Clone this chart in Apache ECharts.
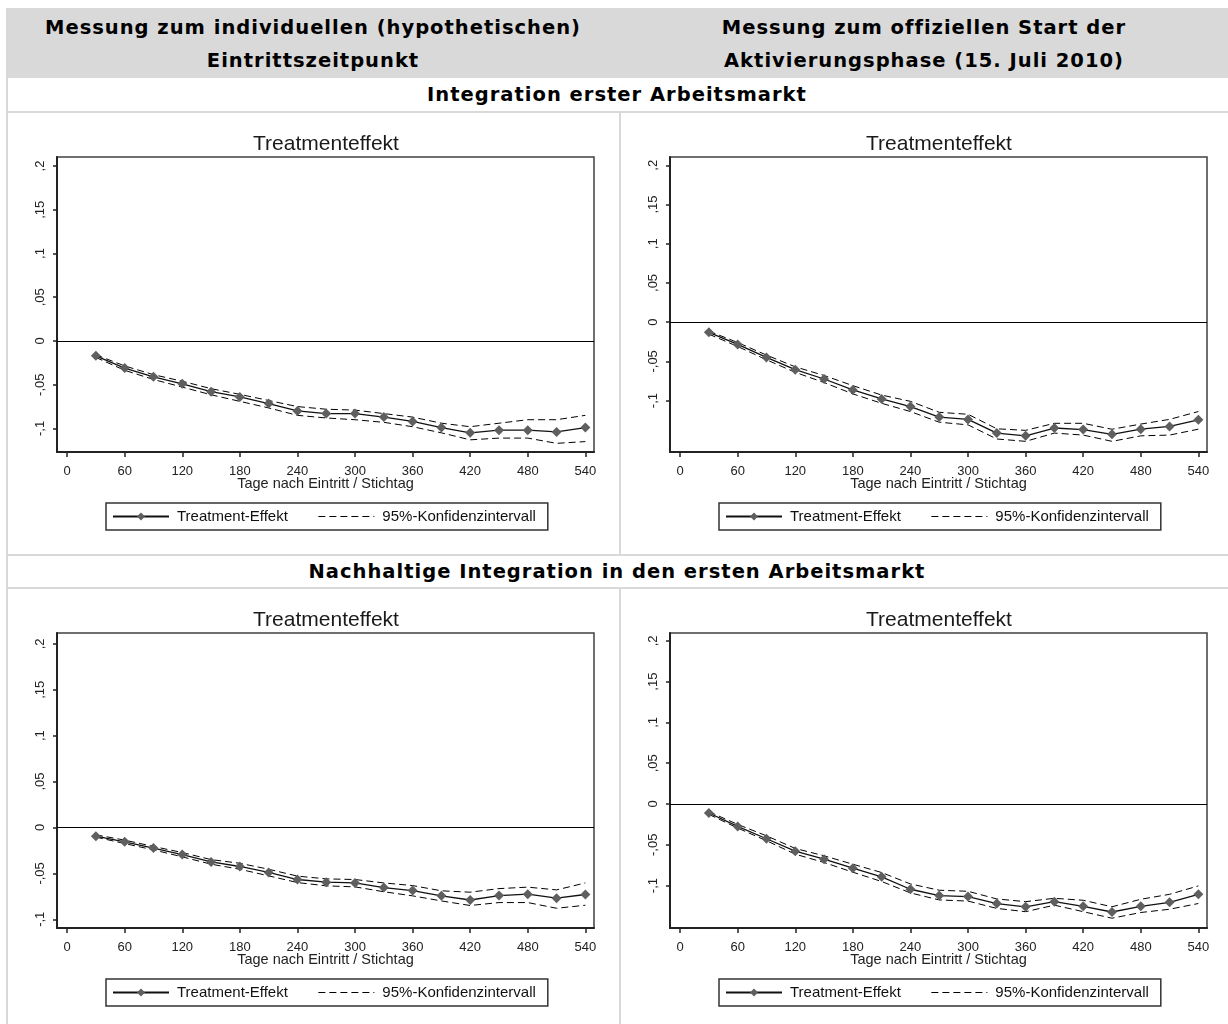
<!DOCTYPE html>
<html>
<head>
<meta charset="utf-8">
<script src="https://cdn.jsdelivr.net/npm/echarts@6/dist/echarts.min.js"></script>
<style>
  body { margin: 0; background: #fff; }
  #page { position: relative; width: 1228px; height: 1024px; overflow: hidden; }
  .gray { position: absolute; background: #d9d9d9; }
  .hdr { position: absolute; font-family: "DejaVu Sans", Verdana, sans-serif; font-weight: bold; font-size: 19.5px; letter-spacing: 1px; color: #000; text-align: center; line-height: 33px; }
  .chart { position: absolute; }
</style>
</head>
<body>
<div id="page">
  <div class="gray" style="left:6px;top:8px;width:1222px;height:70px;"></div>
  <div class="hdr" style="left:6px;top:11px;width:614px;">Messung zum individuellen (hypothetischen)<br>Eintrittszeitpunkt</div>
  <div class="hdr" style="left:620px;top:11px;width:608px;">Messung zum offiziellen Start der<br>Aktivierungsphase (15. Juli 2010)</div>
  <div class="hdr" style="left:6px;top:78px;width:1222px;">Integration erster Arbeitsmarkt</div>
  <div class="hdr" style="left:6px;top:555px;width:1222px;">Nachhaltige Integration in den ersten Arbeitsmarkt</div>
  <!-- table lines -->
  <div class="gray" style="left:6px;top:78px;width:2px;height:946px;"></div>
  <div class="gray" style="left:6px;top:111px;width:1222px;height:2px;"></div>
  <div class="gray" style="left:619px;top:113px;width:2px;height:441px;"></div>
  <div class="gray" style="left:6px;top:554px;width:1222px;height:2px;"></div>
  <div class="gray" style="left:6px;top:587px;width:1222px;height:2px;"></div>
  <div class="gray" style="left:619px;top:589px;width:2px;height:435px;"></div>

  <div class="chart" id="c1" style="left:8px;top:113px;width:611px;height:441px;"></div>
  <div class="chart" id="c2" style="left:621px;top:113px;width:607px;height:441px;"></div>
  <div class="chart" id="c3" style="left:8px;top:589px;width:611px;height:435px;"></div>
  <div class="chart" id="c4" style="left:621px;top:589px;width:607px;height:435px;"></div>
</div>
<script>
// Tage nach Eintritt / Stichtag
var days = [30, 60, 90, 120, 150, 180, 210, 240, 270, 300, 330, 360, 390, 420, 450, 480, 510, 540];
var xTicks = [0, 60, 120, 180, 240, 300, 360, 420, 480, 540];
var yTicks = [-0.1, -0.05, 0, 0.05, 0.1, 0.15, 0.2];

// Integration erster Arbeitsmarkt - individueller Eintrittszeitpunkt
var eff1 = [-0.017, -0.031, -0.041, -0.049, -0.058, -0.064, -0.0715, -0.080, -0.083, -0.083, -0.087, -0.092, -0.099, -0.105, -0.102, -0.102, -0.104, -0.099];
var hi1  = [-0.0158, -0.0285, -0.0385, -0.046, -0.0545, -0.061, -0.068, -0.075, -0.078, -0.079, -0.083, -0.087, -0.094, -0.098, -0.094, -0.090, -0.090, -0.085];
var lo1  = [-0.0188, -0.0335, -0.044, -0.0527, -0.0615, -0.069, -0.0765, -0.085, -0.088, -0.090, -0.093, -0.098, -0.105, -0.113, -0.111, -0.111, -0.117, -0.115];

// Integration erster Arbeitsmarkt - Start Aktivierungsphase
var eff2 = [-0.013, -0.0284, -0.045, -0.0606, -0.0725, -0.0864, -0.098, -0.1076, -0.121, -0.124, -0.1415, -0.145, -0.135, -0.137, -0.143, -0.1365, -0.133, -0.1246];
var hi2  = [-0.0114, -0.026, -0.042, -0.057, -0.068, -0.081, -0.093, -0.101, -0.115, -0.1175, -0.136, -0.138, -0.129, -0.129, -0.1366, -0.130, -0.124, -0.114];
var lo2  = [-0.0153, -0.031, -0.048, -0.064, -0.077, -0.0915, -0.1035, -0.114, -0.1276, -0.131, -0.149, -0.152, -0.1415, -0.144, -0.152, -0.145, -0.144, -0.1365];

// Nachhaltige Integration - individueller Eintrittszeitpunkt
var eff3 = [-0.0095, -0.0156, -0.0225, -0.0295, -0.0375, -0.0425, -0.049, -0.0567, -0.0596, -0.0604, -0.0655, -0.0687, -0.0745, -0.079, -0.0742, -0.0727, -0.077, -0.073];
var hi3  = [-0.008, -0.0138, -0.0207, -0.0273, -0.035, -0.039, -0.0455, -0.053, -0.056, -0.0567, -0.0604, -0.0633, -0.069, -0.0705, -0.0666, -0.065, -0.068, -0.0604];
var lo3  = [-0.0105, -0.0175, -0.0244, -0.032, -0.040, -0.0455, -0.0527, -0.060, -0.0636, -0.0647, -0.070, -0.0745, -0.080, -0.085, -0.0818, -0.0818, -0.088, -0.0847];

// Nachhaltige Integration - Start Aktivierungsphase
var eff4 = [-0.011, -0.0275, -0.0426, -0.0578, -0.0676, -0.0787, -0.0893, -0.1045, -0.1123, -0.1135, -0.122, -0.126, -0.1197, -0.1254, -0.1324, -0.1254, -0.1205, -0.1107];
var hi4  = [-0.0094, -0.025, -0.039, -0.0545, -0.0635, -0.0738, -0.084, -0.098, -0.1057, -0.107, -0.1164, -0.1197, -0.1156, -0.118, -0.126, -0.1168, -0.1107, -0.1004];
var lo4  = [-0.0127, -0.0295, -0.045, -0.0615, -0.0717, -0.0836, -0.095, -0.109, -0.1176, -0.119, -0.128, -0.132, -0.124, -0.132, -0.140, -0.133, -0.129, -0.122];

function pairs(vals) {
  var out = [];
  for (var i = 0; i < days.length; i++) {
    out.push([days[i], vals[i]]);
  }
  return out;
}

function fmtY(v) {
  if (Math.abs(v) < 1e-9) return '0';
  var s = Math.abs(v).toFixed(2).replace(/0+$/, '').replace(/^0/, '').replace('.', ',');
  return (v < 0 ? '-' : '') + s;
}

function makeChart(id, eff, lo, hi, ymin, ymax) {
  var myChart = echarts.init(document.getElementById(id));
  var ciLine = { color: '#000', width: 1, type: [7, 4] };
  var font = 'Liberation Sans, Arial';
  var option = {
    animation: false,
    title: {
      text: 'Treatmenteffekt',
      left: 49 + 264,
      textAlign: 'center',
      top: 16,
      textStyle: { fontFamily: font, fontSize: 21, fontWeight: 'normal', color: '#1a1a1a' }
    },
    legend: {
      data: [
        { name: 'Treatment-Effekt' },
        { name: '95%-Konfidenzintervall', itemStyle: { opacity: 0 }, lineStyle: { color: '#000', width: 1, type: [7, 4] } }
      ],
      left: 98,
      top: 390,
      orient: 'horizontal',
      borderColor: '#333',
      borderWidth: 1.5,
      padding: [6, 12, 6, 6],
      itemWidth: 56,
      itemHeight: 10,
      itemGap: 30,
      textStyle: { fontFamily: font, fontSize: 15, color: '#111', padding: [0, 0, 0, 3] }
    },
    grid: {
      left: 49, top: 44, width: 537, height: 295,
      show: true, borderColor: '#404040', borderWidth: 1.5
    },
    xAxis: {
      type: 'value',
      min: -10.5, max: 549,
      name: 'Tage nach Eintritt / Stichtag',
      nameLocation: 'middle',
      nameGap: 24,
      nameMoveOverlap: false,
      nameTextStyle: { fontFamily: font, fontSize: 14.5, color: '#222', verticalAlign: 'top' },
      axisLine: { show: true, onZero: false, lineStyle: { color: '#222', width: 2 } },
      axisTick: { show: true, length: 5, customValues: xTicks, lineStyle: { color: '#222', width: 1.5 } },
      axisLabel: { customValues: xTicks, margin: 13, fontFamily: font, fontSize: 13, color: '#222' },
      splitLine: { show: false }
    },
    yAxis: {
      type: 'value',
      min: ymin, max: ymax,
      axisLine: { show: true, onZero: false, lineStyle: { color: '#222', width: 2 } },
      axisTick: { show: true, length: 4, customValues: yTicks, lineStyle: { color: '#222', width: 1.5 } },
      axisLabel: { customValues: yTicks, rotate: 90, margin: 10, fontFamily: font, fontSize: 13, color: '#222', formatter: fmtY },
      splitLine: { show: false }
    },
    series: [
      { name: '95%-Konfidenzintervall', type: 'line', data: pairs(hi), symbol: 'none', lineStyle: ciLine, itemStyle: { color: '#000' } },
      { name: '95%-Konfidenzintervall', type: 'line', data: pairs(lo), symbol: 'none', lineStyle: ciLine, itemStyle: { color: '#000' } },
      {
        name: 'Treatment-Effekt', type: 'line', data: pairs(eff),
        symbol: 'diamond', symbolSize: 10,
        lineStyle: { color: '#111', width: 1.3 },
        itemStyle: { color: '#5f5f5f', borderWidth: 0 },
        markLine: {
          silent: true, symbol: 'none', label: { show: false },
          lineStyle: { color: '#000', width: 1.2, type: 'solid' },
          data: [{ yAxis: 0 }]
        }
      }
    ]
  };
  myChart.setOption(option);
}

makeChart('c1', eff1, lo1, hi1, -0.1269, 0.2103);
makeChart('c2', eff2, lo2, hi2, -0.1656, 0.2106);
makeChart('c3', eff3, lo3, hi3, -0.1095, 0.2118);
makeChart('c4', eff4, lo4, hi4, -0.152, 0.2096);
</script>
</body>
</html>
